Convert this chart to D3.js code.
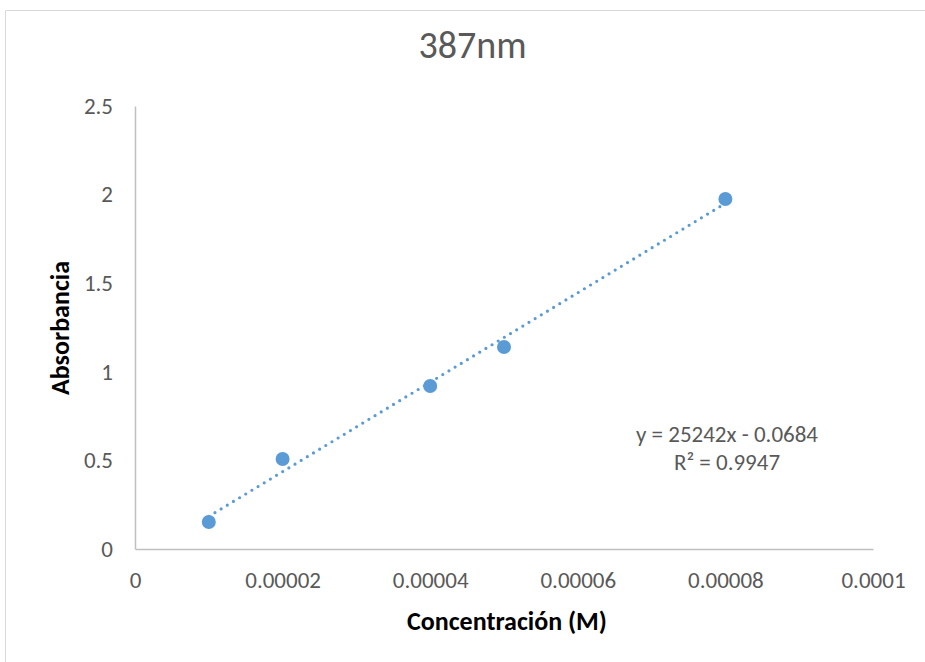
<!DOCTYPE html>
<html>
<head>
<meta charset="utf-8">
<script src="https://cdn.jsdelivr.net/npm/d3@7"></script>
<style>
  body { margin: 0; background: #fff; }
  svg { display: block; }
  text { font-family: Carlito, Calibri, "Open Sans", "Noto Sans", sans-serif; }
</style>
</head>
<body>
<svg id="svg1" width="925" height="662"></svg>
<script>
var concentration = [0.00001, 0.00002, 0.00004, 0.00005, 0.00008];
var absorbance = [0.152, 0.508, 0.92, 1.14, 1.975];
var xTicks = [0, 0.00002, 0.00004, 0.00006, 0.00008, 0.0001];
var xTickLabels = ["0", "0.00002", "0.00004", "0.00006", "0.00008", "0.0001"];
var yTicks = [0, 0.5, 1, 1.5, 2, 2.5];
var yTickLabels = ["0", "0.5", "1", "1.5", "2", "2.5"];
var slope = 25242;
var intercept = -0.0684;
var r2 = 0.9947;

var svg = d3.select("#svg1");
var blue = "#5B9BD5";

// chart frame (only top and left visible in the crop)
svg.append("path")
   .attr("d", "M5.5,662 L5.5,10.5 L925,10.5")
   .attr("fill", "none")
   .attr("stroke", "#d9d9d9")
   .attr("stroke-width", 1);

var scaleX = d3.scaleLinear().domain([0, 0.0001]).range([135, 873]);
var scaleY = d3.scaleLinear().domain([0, 2.5]).range([549, 106]);

// axes
svg.append("g")
   .attr("transform", "translate(0,549)")
   .call(d3.axisBottom(scaleX).tickValues(xTicks).tickSize(0)
           .tickFormat(function(d, i) { return xTickLabels[i]; }))
   .call(function(g) {
     g.select(".domain").attr("stroke", "#bfbfbf").attr("stroke-width", 1.5);
     g.selectAll("text").attr("dy", 0).attr("y", 39)
      .attr("fill", "#595959").style("font-size", "23px");
   });

svg.append("g")
   .attr("transform", "translate(135,0)")
   .call(d3.axisLeft(scaleY).tickValues(yTicks).tickSize(0)
           .tickFormat(function(d, i) { return yTickLabels[i]; }))
   .call(function(g) {
     g.select(".domain").attr("stroke", "#bfbfbf").attr("stroke-width", 1.5);
     g.selectAll("text").attr("x", -22)
      .attr("fill", "#595959").style("font-size", "23px");
   });

// trendline
var x0 = d3.min(concentration), x1 = d3.max(concentration);
svg.append("line")
   .attr("x1", scaleX(x0)).attr("y1", scaleY(slope * x0 + intercept))
   .attr("x2", scaleX(x1)).attr("y2", scaleY(slope * x1 + intercept))
   .attr("stroke", blue)
   .attr("stroke-width", 3.2)
   .attr("stroke-linecap", "round")
   .attr("stroke-dasharray", "0,7.2");

// points
svg.selectAll(".pt")
   .data(concentration)
   .enter()
   .append("circle")
     .attr("class", "pt")
     .attr("cx", function(d) { return scaleX(d); })
     .attr("cy", function(d, i) { return scaleY(absorbance[i]); })
     .attr("r", 7)
     .attr("fill", blue);

// title
svg.append("text")
   .attr("x", 472.5).attr("y", 58)
   .attr("text-anchor", "middle")
   .attr("fill", "#595959")
   .style("font-size", "38px")
   .text("387nm");

// axis titles
svg.append("text")
   .attr("x", 507).attr("y", 630)
   .attr("text-anchor", "middle")
   .style("font-size", "26px")
   .style("font-weight", "bold")
   .attr("fill", "#000")
   .text("Concentración (M)");

svg.append("text")
   .attr("transform", "translate(69,328) rotate(-90)")
   .attr("text-anchor", "middle")
   .style("font-size", "26px")
   .style("font-weight", "bold")
   .attr("fill", "#000")
   .text("Absorbancia");

// equation label
svg.append("text")
   .attr("x", 727).attr("y", 442)
   .attr("text-anchor", "middle")
   .attr("fill", "#595959")
   .style("font-size", "23px")
   .text("y = " + slope + "x - " + Math.abs(intercept));

svg.append("text")
   .attr("x", 727).attr("y", 470)
   .attr("text-anchor", "middle")
   .attr("fill", "#595959")
   .style("font-size", "23px")
   .text("R² = " + r2);
</script>
</body>
</html>
